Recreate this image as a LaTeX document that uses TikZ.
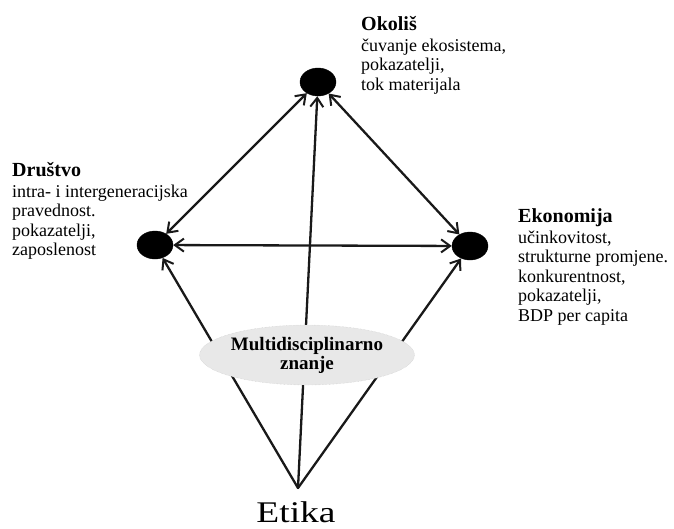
\documentclass[tikz,border=0pt]{standalone}
\usepackage{fontspec}
\usepackage{graphicx}
\setmainfont{Liberation Serif}
\usetikzlibrary{arrows.meta,shapes.geometric}
\tikzset{
  dot/.style={ellipse,fill=black,draw=black,minimum width=36pt,minimum height=28pt,inner sep=0pt},
  conn/.style={line width=2.3pt,draw=black!90,line cap=round},
  tip/.tip={Straight Barb[length=9pt,width=13pt,line width=2pt]},
  arr/.style={conn,-tip},
  darr/.style={conn,tip-tip},
  lbl/.style={anchor=base west,inner sep=0pt,font=\fontsize{18}{19.5}\selectfont},
  knowledge/.style={ellipse,fill=gray!18,draw=gray!45,densely dotted,minimum width=182pt,minimum height=60pt,inner sep=0pt,align=center,font=\fontsize{19}{19}\selectfont\bfseries}
}
\begin{document}
\begin{tikzpicture}[x=1pt,y=-1pt]
\useasboundingbox (0,0) rectangle (674,528);
\node[dot] (okolis) at (318,82) {};
\node[dot] (drustvo) at (155,245) {};
\node[dot] (ekonomija) at (470,246) {};
\coordinate (apex) at (298,488);

\draw[arr] (apex) -- (okolis);
\draw[arr] (apex) -- (drustvo);
\draw[arr] (apex) -- (ekonomija);
\draw[darr] (drustvo) -- (ekonomija);
\draw[darr] (drustvo) -- (okolis);
\draw[darr] (okolis) -- (ekonomija);

\node[knowledge] (znanje) at (307,355) {Multidisciplinarno\\znanje};

\node[lbl] (tokolis) at (361,30) {\begin{tabular}[t]{@{}l@{}}{\fontsize{20}{20}\selectfont\bfseries Okoliš}\\[1.5pt]
čuvanje ekosistema,\\pokazatelji,\\tok materijala\end{tabular}};
\node[lbl] (tdrustvo) at (12,176) {\begin{tabular}[t]{@{}l@{}}{\fontsize{20}{20}\selectfont\bfseries Društvo}\\[1.5pt]
intra- i intergeneracijska\\pravednost.\\pokazatelji,\\zaposlenost\end{tabular}};
\node[lbl] (tekonomija) at (518,222) {\begin{tabular}[t]{@{}l@{}}{\fontsize{20}{20}\selectfont\bfseries Ekonomija}\\[1.5pt]
učinkovitost,\\strukturne promjene.\\konkurentnost,\\pokazatelji,\\BDP per capita\end{tabular}};
\node[anchor=base,inner sep=0pt,font=\fontsize{30}{30}\selectfont] (etika) at (296,522) {\scalebox{1.25}[1]{Etika}};
\end{tikzpicture}
\end{document}
